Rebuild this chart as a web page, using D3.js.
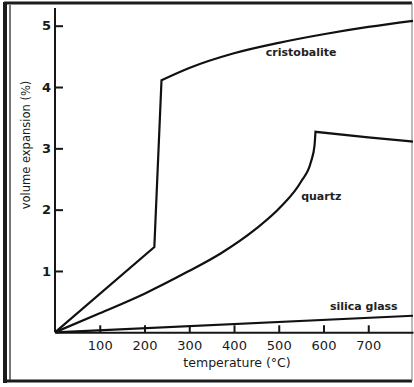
<!DOCTYPE html>
<html>
<head>
<meta charset="utf-8">
<script src="https://cdn.jsdelivr.net/npm/d3@7"></script>
<style>
  body { margin: 0; background: #fff; }
  svg { display: block; }
  .axis path, .axis line { stroke: #161616; stroke-width: 2; }
  .axis text { fill: #1a1a1a; font-family: 'DejaVu Sans', sans-serif; }
</style>
</head>
<body>
<svg id="chart"></svg>
<script>
// values: temperature (°C) -> volume expansion (%)
const cristobaliteTemp = [0, 222, 238, 300, 400, 500, 600, 700, 800];
const cristobaliteVal  = [0, 1.39, 4.11, 4.31, 4.55, 4.72, 4.86, 4.98, 5.08];
const quartzTemp = [0, 100, 200, 297, 371, 446, 505, 550, 572, 580, 582, 700, 800];
const quartzVal  = [0, 0.31, 0.63, 0.99, 1.29, 1.67, 2.05, 2.46, 2.78, 3.05, 3.27, 3.18, 3.11];
const glassTemp = [0, 800];
const glassVal  = [0, 0.27];
// where a curve has a sharp corner (index into its arrays)
const cristobaliteKinks = [1, 2];
const quartzKinks = [10];

const xTicks = [100, 200, 300, 400, 500, 600, 700];
const yTicks = [1, 2, 3, 4, 5];

const labels = [
  { text: 'cristobalite', t: 550, v: 4.5 },
  { text: 'quartz', t: 595, v: 2.16 },
  { text: 'silica glass', t: 690, v: 0.37 }
];

const width = 414, height = 387;
const svg = d3.select('#chart').attr('width', width).attr('height', height);

const x = d3.scaleLinear().domain([0, 800]).range([55, 413]);
const y = d3.scaleLinear().domain([0, 5]).range([332.3, 25.7]);

// frame
const frame = svg.append('g').attr('stroke', '#1c1c1c').attr('fill', 'none');
frame.append('line').attr('x1', 4).attr('x2', 412).attr('y1', 3).attr('y2', 3).attr('stroke-width', 3);
frame.append('line').attr('x1', 5).attr('x2', 5).attr('y1', 2).attr('y2', 383).attr('stroke-width', 4);
frame.append('line').attr('x1', 10).attr('x2', 10).attr('y1', 5).attr('y2', 380).attr('stroke-width', 1.2);
frame.append('line').attr('x1', 4).attr('x2', 412).attr('y1', 381).attr('y2', 381).attr('stroke-width', 3);
frame.append('line').attr('x1', 412).attr('x2', 412).attr('y1', 3).attr('y2', 381)
  .attr('stroke', '#777').attr('stroke-width', 1);

// axes
const xAxis = d3.axisBottom(x)
  .tickValues(xTicks)
  .tickSizeInner(-7)
  .tickSizeOuter(0)
  .tickPadding(8);

svg.append('g')
  .attr('class', 'axis x')
  .attr('transform', `translate(0, ${ y(0) })`)
  .call(xAxis)
  .call((g) => g.selectAll('text').attr('font-size', 13).attr('font-family', null));

const yAxis = d3.axisLeft(y)
  .tickValues(yTicks)
  .tickFormat(d3.format('d'))
  .tickSizeInner(-8)
  .tickSizeOuter(0)
  .tickPadding(4);

const yg = svg.append('g')
  .attr('class', 'axis y')
  .attr('transform', `translate(${ x(0) }, 0)`)
  .call(yAxis);
yg.selectAll('text').attr('font-size', 13).attr('font-weight', 'bold').attr('font-family', null);
yg.select('.domain').attr('d', `M0,${ y(0) }V8`);

// axis titles
svg.append('text')
  .attr('x', 237).attr('y', 367)
  .attr('text-anchor', 'middle')
  .attr('font-family', 'DejaVu Sans, sans-serif')
  .attr('font-size', 12.5)
  .attr('fill', '#1a1a1a')
  .text('temperature (°C)');

svg.append('text')
  .attr('transform', 'translate(30, 145) rotate(-90)')
  .attr('text-anchor', 'middle')
  .attr('font-family', 'DejaVu Sans, sans-serif')
  .attr('font-size', 11.5)
  .attr('fill', '#1a1a1a')
  .text('volume expansion (%)');

// curves: split at kinks, smooth in between
function segments(temps, vals, kinks) {
  const pts = temps.map((t, i) => [t, vals[i]]);
  const cuts = [0, ...kinks, pts.length - 1];
  const out = [];
  for (let i = 0; i < cuts.length - 1; i++) {
    out.push(pts.slice(cuts[i], cuts[i + 1] + 1));
  }
  return out;
}

const line = d3.line()
  .x((d) => x(d[0]))
  .y((d) => y(d[1]))
  .curve(d3.curveMonotoneX);

const series = [
  segments(cristobaliteTemp, cristobaliteVal, cristobaliteKinks),
  segments(quartzTemp, quartzVal, quartzKinks),
  segments(glassTemp, glassVal, [])
];

series.forEach((segs) => {
  const d = segs.map((s, i) => {
    const p = line(s);
    return i === 0 ? p : p.replace(/^M[^LC]*/, '');
  }).join('');
  svg.append('path')
    .attr('d', d)
    .attr('fill', 'none')
    .attr('stroke', '#111')
    .attr('stroke-width', 2.2)
    .attr('stroke-linejoin', 'miter');
});

svg.selectAll('.label')
  .data(labels)
  .enter().append('text')
  .attr('class', 'label')
  .attr('x', (d) => x(d.t))
  .attr('y', (d) => y(d.v))
  .attr('text-anchor', 'middle')
  .attr('font-family', 'DejaVu Sans, sans-serif')
  .attr('font-size', 11)
  .attr('font-weight', 'bold')
  .attr('fill', '#222')
  .text((d) => d.text);
</script>
</body>
</html>
